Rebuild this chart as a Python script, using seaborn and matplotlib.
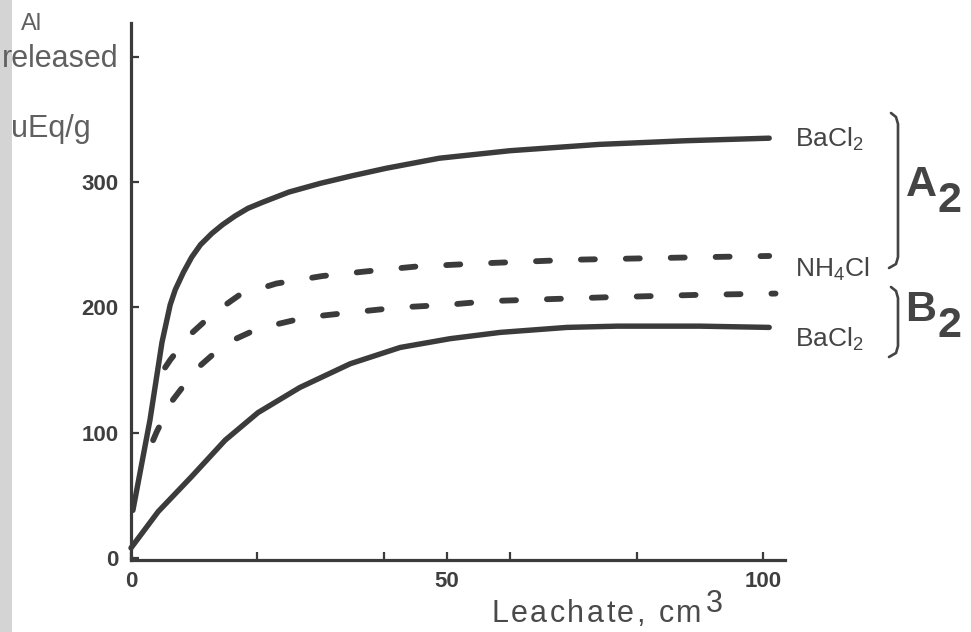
import numpy as np
import pandas as pd
import matplotlib
matplotlib.use("Agg")
import matplotlib.pyplot as plt
from matplotlib.lines import Line2D
from matplotlib.patches import Rectangle
import seaborn as sns

# ---------------- data ----------------
# A2 soil, BaCl2 (upper solid)
a2_bacl2_x = [0.3, 3.0, 4.9, 6.2, 7.0, 8.3, 9.6, 11.0, 12.8, 14.5, 16.5, 18.5, 20.9, 25, 30, 35, 40.4, 48.8, 60, 74, 88, 101]
a2_bacl2_y = [38, 110, 172, 202, 214, 228, 240, 250, 259, 266, 273, 279, 284, 292, 299, 305, 311, 319, 325, 330, 333, 335]
# A2 soil, NH4Cl (upper dashed)
a2_nh4cl_x = [5.4, 6.2, 9.3, 13, 17.2, 23, 30.3, 37.8, 45, 55, 70, 90, 101]
a2_nh4cl_y = [152, 158, 178, 195, 210, 219, 225, 229, 232.5, 235, 238, 240, 241]
# B2 soil, NH4Cl (lower dashed)
b2_nh4cl_x = [3.5, 4.1, 6.6, 10.4, 14.9, 20.1, 27.7, 35, 42.6, 50, 56.8, 75, 90, 102]
b2_nh4cl_y = [94, 101, 126, 151, 171, 183, 192, 196, 200, 202, 205, 208, 210, 211]
# B2 soil, BaCl2 (lower solid)
b2_bacl2_x = [0.0, 4.3, 9.6, 14.9, 20.1, 26.7, 34.7, 42.6, 50.5, 58.4, 69, 77, 90, 101]
b2_bacl2_y = [8, 37, 65, 94, 116, 136, 155, 168, 175, 180, 184, 185, 185, 184]

x_ticks = [0, 20, 40, 50, 60, 80, 100]
x_tick_labels = ["0", "", "", "50", "", "", "100"]
y_ticks = [0, 100, 200, 300, 400]
y_tick_labels = ["0", "100", "200", "300", ""]

frames = []
for name, xs, ys in [("A2 BaCl2", a2_bacl2_x, a2_bacl2_y),
                     ("A2 NH4Cl", a2_nh4cl_x, a2_nh4cl_y),
                     ("B2 NH4Cl", b2_nh4cl_x, b2_nh4cl_y),
                     ("B2 BaCl2", b2_bacl2_x, b2_bacl2_y)]:
    frames.append(pd.DataFrame({"x": xs, "y": ys, "series": name}))
df = pd.concat(frames, ignore_index=True)

# ---------------- style ----------------
sns.set_style("ticks")
plt.rcParams["font.family"] = ["Liberation Sans", "DejaVu Sans"]
plt.rcParams["mathtext.fontset"] = "custom"
plt.rcParams["mathtext.rm"] = "Liberation Sans"
plt.rcParams["mathtext.default"] = "regular"

W, H = 971, 632
fig = plt.figure(figsize=(W / 100, H / 100), dpi=100)
fig.patch.set_facecolor("white")

def fx(px):
    return px / W

def fy(py):
    return 1 - py / H

ax = fig.add_axes([fx(131), fy(560), (785 - 131) / W, (560 - 23) / H])
ax.set_facecolor("white")

line_col = "#3b3b3b"
solid_lw = 3.9
dash_lw = 4.2

styles = {
    "A2 BaCl2": dict(linewidth=solid_lw, linestyle="-"),
    "A2 NH4Cl": dict(linewidth=dash_lw, linestyle=(0, (2.4, 5.3))),
    "B2 NH4Cl": dict(linewidth=dash_lw, linestyle=(0, (2.4, 5.3))),
    "B2 BaCl2": dict(linewidth=solid_lw, linestyle="-"),
}
for name, sub in df.groupby("series", sort=False):
    sns.lineplot(data=sub, x="x", y="y", ax=ax, color=line_col, estimator=None,
                 sort=False, legend=False, clip_on=False,
                 solid_capstyle="round", dash_capstyle="round",
                 solid_joinstyle="round", dash_joinstyle="round", **styles[name])

ax.set_xlim(0, 103.5)
ax.set_ylim(-1.6, 426.9)

for side in ["top", "right"]:
    ax.spines[side].set_visible(False)
for side in ["left", "bottom"]:
    ax.spines[side].set_linewidth(2.3)
    ax.spines[side].set_color(line_col)

ax.set_xticks(x_ticks)
ax.set_xticklabels(x_tick_labels)
ax.set_yticks(y_ticks)
ax.set_yticklabels(y_tick_labels)
ax.tick_params(axis="both", direction="in", length=6, width=1.6, color=line_col,
               labelcolor="#3f3f3f", labelsize=16)
ax.tick_params(axis="y", pad=9)
ax.tick_params(axis="x", pad=8)
for lab in ax.get_xticklabels() + ax.get_yticklabels():
    lab.set_fontweight("bold")
ax.set_xlabel("")
ax.set_ylabel("")

# ---------------- axis titles ----------------
lab_col = "#606060"
fig.text(fx(21), fy(30), "Al", fontsize=17, color=lab_col, ha="left", va="baseline")
fig.text(fx(2), fy(67), "released", fontsize=22, color=lab_col, ha="left", va="baseline")
fig.text(fx(11), fy(137), "uEq/g", fontsize=22, color=lab_col, ha="left", va="baseline")

# x-axis title, letter-spaced like the original
xl_col = "#4a4a4a"
xl_size = 22
chars = list("Leachate, cm")
prev = fig.text(fx(491), fy(629), chars[0], fontsize=xl_size, color=xl_col,
                ha="left", va="bottom")
for ch in chars[1:]:
    prev = ax.annotate(ch, xy=(1, 0), xycoords=prev, xytext=(1.8, 0),
                       textcoords="offset points", fontsize=xl_size, color=xl_col,
                       ha="left", va="bottom", annotation_clip=False)
ax.annotate("3", xy=(1, 0), xycoords=prev, xytext=(3.0, 7),
            textcoords="offset points", fontsize=xl_size, color=xl_col,
            ha="left", va="bottom", annotation_clip=False)

# ---------------- right-hand labels ----------------
txt_col = "#444444"
fig.text(fx(795), fy(147), r"BaCl$_2$", fontsize=19, color=txt_col, ha="left", va="baseline")
fig.text(fx(795), fy(277), r"NH$_4$Cl", fontsize=19, color=txt_col, ha="left", va="baseline")
fig.text(fx(795), fy(347), r"BaCl$_2$", fontsize=19, color=txt_col, ha="left", va="baseline")

fig.text(fx(906), fy(196), "A", fontsize=31, color=txt_col, ha="left", va="baseline",
         fontweight="bold")
fig.text(fx(937), fy(212), "2", fontsize=31, color=txt_col, ha="left", va="baseline",
         fontweight="bold")
fig.text(fx(905), fy(321), "B", fontsize=31, color=txt_col, ha="left", va="baseline",
         fontweight="bold")
fig.text(fx(937), fy(337), "2", fontsize=31, color=txt_col, ha="left", va="baseline",
         fontweight="bold")

# brackets
def bracket(top, bottom):
    xs = [891, 896, 898, 898, 896, 889]
    ys = [top, top + 4, top + 11, bottom - 11, bottom - 4, bottom]
    fig.add_artist(Line2D([fx(v) for v in xs], [fy(v) for v in ys],
                          transform=fig.transFigure, color=txt_col, linewidth=1.9,
                          solid_joinstyle="round", solid_capstyle="round"))

bracket(113, 268)
bracket(287, 357)

# scanner edge band at the left
fig.add_artist(Rectangle((0, 0), fx(12), 1, transform=fig.transFigure,
                         facecolor="#d4d4d4", edgecolor="none", zorder=-1))

fig.savefig("out.png", dpi=100, facecolor="white")
